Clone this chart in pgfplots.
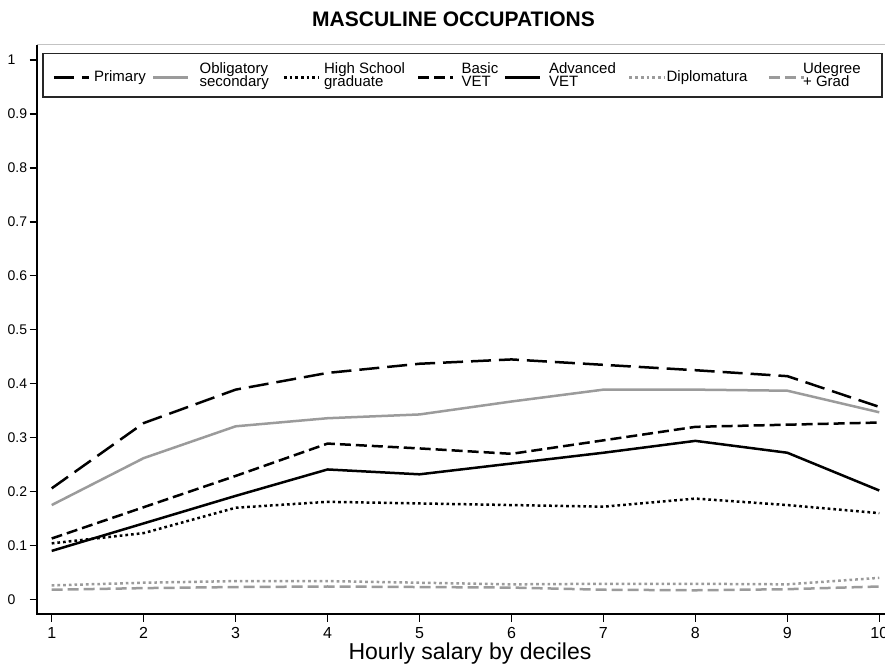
\documentclass[border=0pt]{standalone}
\usepackage{fontspec}
\setmainfont{Liberation Sans}
\usepackage{pgfplots}
\pgfplotsset{compat=1.18}
\definecolor{lgray}{RGB}{155,155,155}
\definecolor{bgray}{RGB}{195,195,195}
\newcommand{\lone}[3]{\makebox[#1][l]{\hspace{#2}\rule[-19pt]{0pt}{31pt}\raisebox{-6.35pt}{\smash{#3}}}}
\newcommand{\ltwo}[4]{\makebox[#1][l]{\hspace{#2}\rule[-19pt]{0pt}{31pt}\rlap{\raisebox{2.05pt}{\smash{#3}}}\raisebox{-11.35pt}{\smash{#4}}}}
\begin{document}
\begin{tikzpicture}[x=1pt,y=1pt]
\useasboundingbox (0,0) rectangle (885,667);
\begin{axis}[
  at={(37pt,53pt)}, anchor=south west,
  scale only axis, width=866pt, height=569pt,
  xmin=0.84, xmax=10.258, ymin=-0.027, ymax=1.028,
  axis line style={draw=none},
  xtick={1,2,3,4,5,6,7,8,9,10},
  ytick={0,0.1,0.2,0.3,0.4,0.5,0.6,0.7,0.8,0.9,1},
  xtick pos=left, ytick pos=left,
  tick align=outside,
  major tick length=7.5pt,
  tick style={black, line width=1.3pt},
  /pgf/number format/assume math mode=true,
  xticklabel style={font=\fontsize{16}{18}\selectfont, inner sep=0pt, anchor=north, yshift=-6pt},
  yticklabel style={font=\fontsize{14}{16}\selectfont, inner sep=0pt, anchor=west, xshift=-22pt},
  xlabel={Hourly salary by deciles},
  xlabel style={at={(axis description cs:0.5,-0.0796)}, anchor=base, font=\fontsize{23}{26}\selectfont},
  every axis title shift=0pt,
  title={MASCULINE OCCUPATIONS},
  title style={at={(axis description cs:0.481,1.0322)}, anchor=base, font=\fontsize{21}{24}\selectfont\bfseries},
  legend columns=7,
  legend cell align=left,
  legend style={at={(axis description cs:0.00693,0.986)}, anchor=north west,
    draw=none, fill=none, line width=1.3pt, inner xsep=9pt, inner ysep=9.7pt,
    column sep=0pt, font=\fontsize{15}{18}\selectfont, nodes={inner sep=0pt}},
  legend image code/.code={\draw[#1] (0pt,-7.5pt) -- (35pt,-7.5pt);},
  every axis plot/.append style={line width=2.5pt, line cap=butt},
  after end axis/.code={
    \draw[bgray, line width=1pt] (rel axis cs:0,1) -- (rel axis cs:1,1) -- (rel axis cs:1,0);
    \draw[black, line width=1.4pt] (rel axis cs:0,1) -- (rel axis cs:0,0) -- (rel axis cs:1,0);
    \draw[black!85, line width=1.4pt] (axis description cs:0.0069,0.9848) rectangle (axis description cs:0.9757,0.9085);
  },
]
\addplot[black, dash pattern=on 20pt off 8pt] coordinates {
(1,0.206) (2,0.327) (3,0.389) (4,0.420) (5,0.437) (6,0.445) (7,0.435) (8,0.425) (9,0.414) (10,0.357)};
\addlegendentry{\lone{62pt}{4pt}{Primary}}
\addplot[lgray] coordinates {
(1,0.175) (2,0.262) (3,0.321) (4,0.336) (5,0.343) (6,0.367) (7,0.389) (8,0.389) (9,0.387) (10,0.347)};
\addlegendentry{\ltwo{93pt}{10pt}{Obligatory}{secondary}}
\addplot[black, dash pattern=on 2.7pt off 3pt] coordinates {
(1,0.104) (2,0.123) (3,0.170) (4,0.181) (5,0.178) (6,0.175) (7,0.172) (8,0.187) (9,0.175) (10,0.160)};
\addlegendentry{\ltwo{97pt}{4pt}{High School}{graduate}}
\addplot[black, dash pattern=on 11pt off 5pt] coordinates {
(1,0.113) (2,0.171) (3,0.229) (4,0.289) (5,0.280) (6,0.270) (7,0.295) (8,0.320) (9,0.324) (10,0.328)};
\addlegendentry{\ltwo{49pt}{7pt}{Basic}{VET}}
\addplot[black] coordinates {
(1,0.090) (2,0.141) (3,0.192) (4,0.241) (5,0.232) (6,0.252) (7,0.272) (8,0.294) (9,0.272) (10,0.202)};
\addlegendentry{\ltwo{87pt}{8pt}{Advanced}{VET}}
\addplot[lgray, dash pattern=on 2.7pt off 3pt] coordinates {
(1,0.026) (2,0.031) (3,0.034) (4,0.034) (5,0.031) (6,0.028) (7,0.029) (8,0.029) (9,0.028) (10,0.040)};
\addlegendentry{\lone{102pt}{1pt}{Diplomatura}}
\addplot[lgray, dash pattern=on 11pt off 5pt] coordinates {
(1,0.018) (2,0.021) (3,0.023) (4,0.024) (5,0.023) (6,0.022) (7,0.018) (8,0.017) (9,0.019) (10,0.024)};
\addlegendentry{\ltwo{67pt}{-2pt}{Udegree}{+ Grad}}
\end{axis}
\end{tikzpicture}
\end{document}
